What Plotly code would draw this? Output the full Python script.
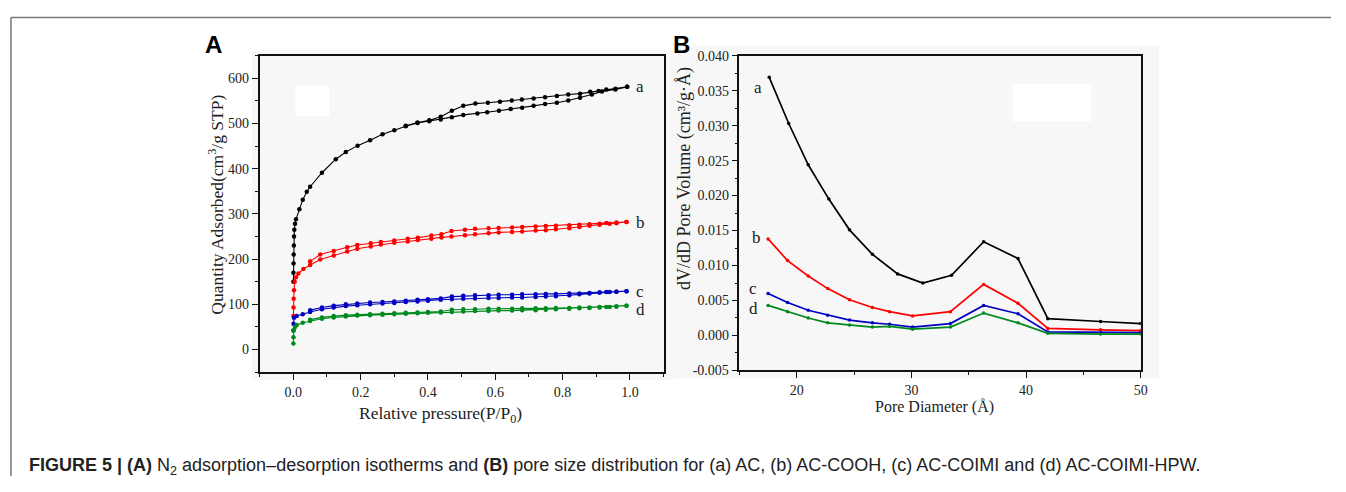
import plotly.graph_objects as go

# ---------------- Panel A data: N2 isotherms ----------------
a_ads_x = [0.0002,0.0004,0.0007,0.001,0.0015,0.002,0.003,0.005,0.008,0.018,0.028,0.040,0.050,0.085,0.126,0.156,0.191,0.228,0.265,0.300,0.334,0.369,0.404,0.438,0.471,0.505,0.547,0.576,0.611,0.646,0.680,0.714,0.748,0.783,0.817,0.852,0.887,0.917,0.957,0.992]
a_ads_y = [150,170,190,210,230,250,265,278,288,310,331,349,360,391,421,437,451,463,476,485,494,501,505,509,514,519,522,525,528,532,535,539,543,546,551,557,564,571,575,581]
a_des_x = [0.992,0.957,0.930,0.907,0.882,0.852,0.817,0.783,0.748,0.714,0.679,0.649,0.614,0.578,0.541,0.505,0.471,0.438,0.404,0.369,0.334]
a_des_y = [581,577,575,572,570,566,564,561,558,555,553,551,548,546,544,539,528,515,507,502,495]

b_ads_x = [0.0003,0.0006,0.001,0.002,0.004,0.008,0.015,0.03,0.05,0.08,0.12,0.16,0.19,0.23,0.26,0.30,0.34,0.37,0.41,0.44,0.47,0.51,0.54,0.58,0.61,0.65,0.68,0.72,0.75,0.78,0.82,0.85,0.88,0.91,0.94,0.96,0.99]
b_ads_y = [74,93,112,131,150,160,168,178,187,199,208,217,223,228,232,236,239,242,245,248,250,253,255,257,259,260,261,263,264,266,268,271,274,276,278,279,282]
b_des_x = [0.99,0.96,0.93,0.91,0.88,0.85,0.82,0.78,0.75,0.72,0.68,0.65,0.61,0.58,0.54,0.51,0.47,0.44,0.41,0.37,0.34,0.30,0.26,0.23,0.19,0.16,0.12,0.08,0.05]
b_des_y = [282,281,280,278,277,276,275,274,273,272,271,270,269,268,267,265,262,255,252,247,245,241,238,235,231,226,218,210,195]

c_ads_x = [0.0002,0.0005,0.002,0.01,0.028,0.05,0.085,0.12,0.156,0.19,0.228,0.265,0.30,0.334,0.369,0.40,0.438,0.471,0.505,0.54,0.58,0.61,0.65,0.68,0.72,0.75,0.78,0.82,0.85,0.88,0.91,0.94,0.96,0.99]
c_ads_y = [42,57,70,74,78,83,89,93,96,98,100,102,103,105,106,108,110,111,112,113,114,114,115,115,116,117,118,120,122,124,126,127,128,129]
c_des_x = [0.99,0.96,0.93,0.91,0.88,0.85,0.82,0.78,0.75,0.72,0.68,0.65,0.61,0.58,0.54,0.505,0.471,0.438,0.40,0.369,0.334,0.30,0.265,0.228,0.19,0.156,0.12,0.085,0.05]
c_des_y = [129,128,127,126,125,124,124,123,123,122,122,121,121,120,120,119,117,113,111,110,108,106,105,104,102,100,97,93,87]

d_ads_x = [0.0002,0.0005,0.001,0.005,0.01,0.028,0.05,0.085,0.12,0.156,0.19,0.228,0.265,0.30,0.334,0.369,0.40,0.438,0.471,0.505,0.54,0.58,0.61,0.65,0.68,0.72,0.75,0.78,0.82,0.85,0.88,0.91,0.94,0.96,0.99]
d_ads_y = [13,27,42,50,54,59,63,68,71,73,75,76,77,78,79,80,81,82,83,84,85,85,86,86,87,87,88,89,90,91,92,93,94,95,97]
d_des_x = [0.99,0.96,0.93,0.91,0.88,0.85,0.82,0.78,0.75,0.72,0.68,0.65,0.61,0.58,0.54,0.505,0.471,0.438,0.40,0.369,0.334,0.30,0.265,0.228,0.19,0.156,0.12,0.085,0.05]
d_des_y = [97,95,94,94,93,93,92,92,91,91,91,90,90,90,89,89,88,84,83,82,81,80,79,78,77,76,74,71,66]

# ---------------- Panel B data: pore size distribution ----------------
pore_a_x = [17.6,19.3,21.0,22.8,24.6,26.6,28.8,31.0,33.5,36.3,39.3,41.9,46.5,50.0]
pore_a_y = [0.0369,0.0303,0.0244,0.0195,0.0151,0.0116,0.0088,0.0075,0.0086,0.0134,0.0110,0.0024,0.0020,0.0017]
pore_x = [17.5,19.2,21.0,22.7,24.6,26.6,28.1,30.1,33.4,36.3,39.3,41.9,46.5,50.0]
pore_b_y = [0.0138,0.0107,0.0085,0.0067,0.0051,0.0040,0.0034,0.0028,0.0034,0.0073,0.0046,0.0010,0.0008,0.0007]
pore_c_y = [0.0060,0.0047,0.0036,0.0029,0.0022,0.0018,0.0016,0.0012,0.0017,0.0043,0.0031,0.0005,0.0004,0.0004]
pore_d_y = [0.0043,0.0034,0.0025,0.0018,0.0015,0.0012,0.0013,0.0009,0.0012,0.0032,0.0018,0.0003,0.0002,0.0002]

# tick labels for panel B y-axis (hyphen minus as in the original)
b_ytick_vals = [-0.005, 0.0, 0.005, 0.010, 0.015, 0.020, 0.025, 0.030, 0.035, 0.040]
b_ytick_text = ["-0.005", "0.000", "0.005", "0.010", "0.015", "0.020", "0.025", "0.030", "0.035", "0.040"]

sample_labels = ["a", "b", "c", "d"]
colors = ["#000000", "#ff0000", "#0000c0", "#008a1e"]

SERIF = "Liberation Serif"
SANS = "Liberation Sans"

# page = figure + 8px default body margin on each side
OFF = 8
W, H = 1346 - 2 * OFF, 492 - 2 * OFF


def fx(px):
    return (px - OFF) / W


def fy(py):
    return 1 - (py - OFF) / H


fig = go.Figure()

iso = [(a_ads_x, a_ads_y, a_des_x, a_des_y),
       (b_ads_x, b_ads_y, b_des_x, b_des_y),
       (c_ads_x, c_ads_y, c_des_x, c_des_y),
       (d_ads_x, d_ads_y, d_des_x, d_des_y)]
for (ax_, ay_, dx_, dy_), col in zip(iso, colors):
    fig.add_trace(go.Scatter(x=ax_ + dx_, y=ay_ + dy_, mode="lines+markers",
                             line=dict(color=col, width=1.1),
                             marker=dict(color=col, size=4.5),
                             xaxis="x", yaxis="y", showlegend=False))

for xs, ys, col in [(pore_a_x, pore_a_y, colors[0]), (pore_x, pore_b_y, colors[1]),
                    (pore_x, pore_c_y, colors[2]), (pore_x, pore_d_y, colors[3])]:
    fig.add_trace(go.Scatter(x=xs, y=ys, mode="lines+markers",
                             line=dict(color=col, width=1.7),
                             marker=dict(color=col, size=3.5),
                             xaxis="x2", yaxis="y2", showlegend=False))

tickfont = dict(family=SERIF, size=14, color="#222")
common = dict(showline=True, linecolor="#111", linewidth=1.5, mirror=True,
              ticks="outside", ticklen=6, tickwidth=1.3, tickcolor="#111",
              showgrid=False, zeroline=False, tickfont=tickfont)

fig.update_layout(
    width=W, height=H, margin=dict(l=0, r=0, t=0, b=0),
    paper_bgcolor="white", plot_bgcolor="#f8f8f8",
    xaxis=dict(domain=[fx(261), fx(667)], range=[-0.1, 1.1], dtick=0.2, tick0=0,
               tickformat=".1f", anchor="y",
               minor=dict(dtick=0.1, tick0=0, ticks="outside", ticklen=3, tickcolor="#111"),
               **common),
    yaxis=dict(domain=[fy(376.7), fy(50)], range=[-50, 650], dtick=100, tick0=0,
               anchor="x",
               minor=dict(dtick=50, tick0=0, ticks="outside", ticklen=3, tickcolor="#111"),
               **common),
    xaxis2=dict(domain=[fx(743.3), fx(1146.7)], range=[15, 50], dtick=10, tick0=0,
                anchor="y2",
                minor=dict(dtick=5, tick0=0, ticks="outside", ticklen=3, tickcolor="#111"),
                **common),
    yaxis2=dict(domain=[fy(375), fy(50)], range=[-0.005, 0.040],
                tickmode="array", tickvals=b_ytick_vals, ticktext=b_ytick_text, anchor="x2",
                minor=dict(dtick=0.0025, tick0=0, ticks="outside", ticklen=3, tickcolor="#111"),
                **common),
)

shapes = [
    dict(type="line", xref="paper", yref="paper", x0=fx(11), x1=1, y0=fy(10.5), y1=fy(10.5),
         line=dict(color="#777", width=1.5)),
    dict(type="line", xref="paper", yref="paper", x0=fx(11), x1=fx(11), y0=0, y1=fy(10.5),
         line=dict(color="#777", width=1.5)),
    dict(type="rect", xref="paper", yref="paper", x0=fx(253), x1=fx(678), y0=fy(385), y1=fy(45),
         fillcolor="#f7f7f7", line=dict(width=0), layer="below"),
    dict(type="rect", xref="paper", yref="paper", x0=fx(678), x1=fx(1165), y0=fy(383), y1=fy(40),
         fillcolor="#f7f7f7", line=dict(width=0), layer="below"),
    dict(type="rect", xref="paper", yref="paper", x0=fx(297), x1=fx(331), y0=fy(112), y1=fy(81),
         fillcolor="white", line=dict(width=0), layer="above"),
    dict(type="rect", xref="paper", yref="paper", x0=fx(1018), x1=fx(1097), y0=fy(118), y1=fy(79),
         fillcolor="white", line=dict(width=0), layer="above"),
]
fig.update_layout(shapes=shapes)

ann = []
for lab, yv in zip(sample_labels, [581, 282, 129, 88]):
    ann.append(dict(x=1.012, y=yv, xref="x", yref="y", text=lab, showarrow=False,
                    xanchor="left", yanchor="middle", font=dict(family=SERIF, size=17, color="#222")))
for lab, xv, yv in zip(sample_labels, [16.6, 16.5, 16.2, 16.2], [0.0354, 0.0140, 0.0067, 0.0039]):
    ann.append(dict(x=xv, y=yv, xref="x2", yref="y2", text=lab, showarrow=False,
                    xanchor="center", yanchor="middle", font=dict(family=SERIF, size=17, color="#222")))
ann.append(dict(x=fx(215), y=fy(38), xref="paper", yref="paper", text="<b>A</b>", showarrow=False,
                xanchor="center", yanchor="middle", font=dict(family=SANS, size=24, color="black")))
ann.append(dict(x=fx(685), y=fy(38), xref="paper", yref="paper", text="<b>B</b>", showarrow=False,
                xanchor="center", yanchor="middle", font=dict(family=SANS, size=24, color="black")))
ann.append(dict(x=fx(217), y=fy(204), xref="paper", yref="paper",
                text="Quantity Adsorbed(cm<sup>3</sup>/g STP)", textangle=-90, showarrow=False,
                xanchor="center", yanchor="middle", font=dict(family=SERIF, size=17.5, color="#222")))
ann.append(dict(x=fx(443), y=fy(421), xref="paper", yref="paper",
                text="Relative pressure(P/P<sub>0</sub>)", showarrow=False,
                xanchor="center", yanchor="middle", font=dict(family=SERIF, size=17.5, color="#222")))
ann.append(dict(x=fx(688), y=fy(177), xref="paper", yref="paper",
                text="dV/dD Pore Volume (cm³/g·Å)", textangle=-90, showarrow=False,
                xanchor="center", yanchor="middle", font=dict(family=SERIF, size=18, color="#222")))
ann.append(dict(x=fx(939), y=fy(413), xref="paper", yref="paper",
                text="Pore Diameter (Å)", showarrow=False,
                xanchor="center", yanchor="middle", font=dict(family=SERIF, size=16, color="#222")))
ann.append(dict(x=fx(27), y=fy(474), xref="paper", yref="paper",
                text="<b>FIGURE 5 | (A)</b> N<sub>2</sub> adsorption–desorption isotherms and <b>(B)</b> pore size distribution for (a) AC, (b) AC-COOH, (c) AC-COIMI and (d) AC-COIMI-HPW.",
                showarrow=False, xanchor="left", yanchor="middle",
                font=dict(family=SANS, size=18, color="#222")))
fig.update_layout(annotations=ann)

fig.write_html("out.html", config={"displayModeBar": False})
